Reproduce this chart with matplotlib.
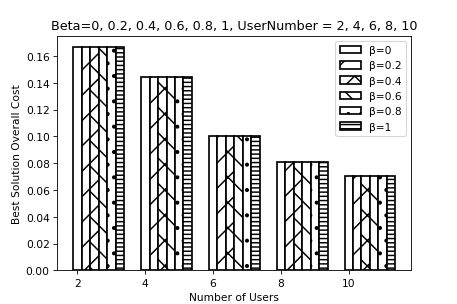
import matplotlib
matplotlib.use("Agg")
import matplotlib.pyplot as plt
import numpy as np

users = [2, 4, 6, 8, 10]
betas = ["0", "0.2", "0.4", "0.6", "0.8", "1"]
costs = [0.1667, 0.1441, 0.100, 0.0811, 0.0707]
hatches = ["", "/", "/\\", "\\", ".", "---"]

plt.rcParams["hatch.linewidth"] = 1.4

fig, ax = plt.subplots(figsize=(6, 4), dpi=76.2)
width = 0.25
x = np.array(users, dtype=float)
for i, b in enumerate(betas):
    ax.bar(x + i * width, costs, width, color="white", edgecolor="black",
           linewidth=1.6, hatch=hatches[i], label="β=" + b)

ax.set_xticks(users)
ax.set_xlabel("Number of Users")
ax.set_ylabel("Best Solution Overall Cost")
ax.set_title("Beta=0, 0.2, 0.4, 0.6, 0.8, 1, UserNumber = 2, 4, 6, 8, 10")
ax.legend(loc="upper right")
fig.savefig("out.png", dpi=76.2)
